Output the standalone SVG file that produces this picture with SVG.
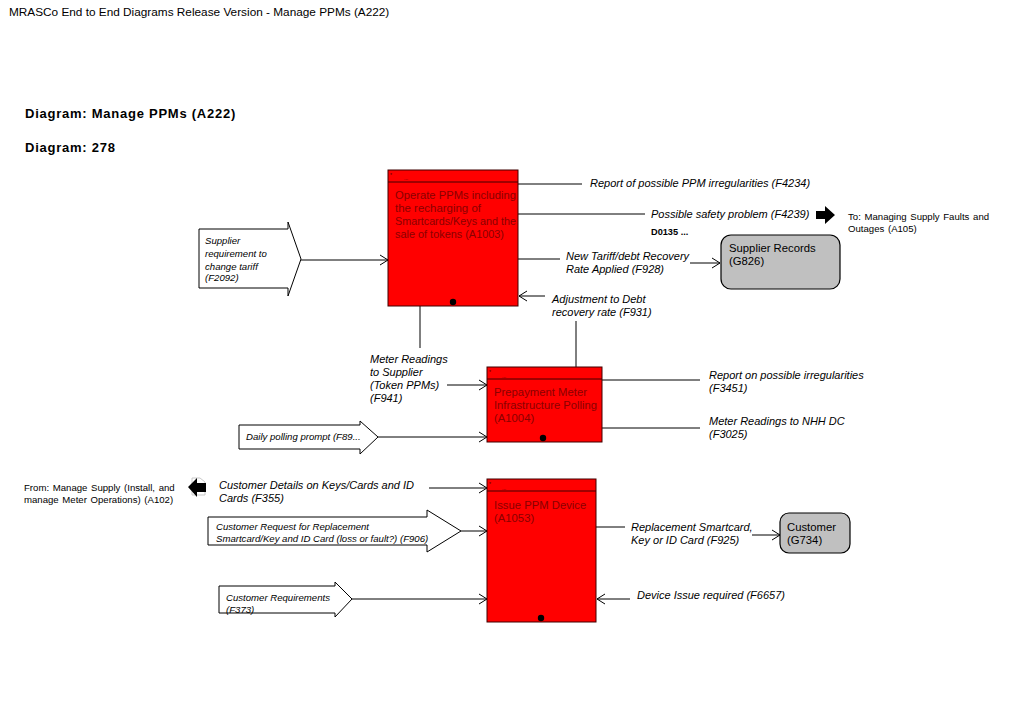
<svg xmlns="http://www.w3.org/2000/svg" width="1023" height="708" viewBox="0 0 1023 708">
<style>
text{font-family:"Liberation Sans",Arial,sans-serif;}
.ttl{font-size:11.8px;fill:#000}
.hd{font-size:13px;font-weight:bold;fill:#000;letter-spacing:0.75px}
.lbl{font-size:11px;font-style:italic;fill:#000}
.sm{font-size:9.6px;font-style:italic;fill:#000}
.ref{font-size:9.6px;fill:#000;word-spacing:1px}
.act{fill:#ff0000;stroke:#400000;stroke-width:1}
.atx{font-size:11.3px;fill:#8a0000}
.tiny{font-size:5px;fill:#400000}
.store{fill:#c0c0c0;stroke:#000;stroke-width:1.2}
.stx{font-size:11.3px;fill:#000}
.ln{stroke:#000;stroke-width:1;fill:none}
.blk{fill:#fff;stroke:#000;stroke-width:1}
</style>
<defs>
<marker id="ah" markerWidth="10" markerHeight="12" refX="9" refY="6" orient="auto" markerUnits="userSpaceOnUse">
<path d="M1,1 L9,6 L1,11" fill="none" stroke="#000" stroke-width="1"/>
</marker>
</defs>
<rect width="1023" height="708" fill="#fff"/>
<text class="ttl" x="9" y="16">MRASCo End to End Diagrams Release Version - Manage PPMs (A222)</text>
<text class="hd" x="25" y="118">Diagram: Manage PPMs (A222)</text>
<text class="hd" x="25" y="152">Diagram: 278</text>

<g id="connectors">
<line class="ln" x1="518" y1="184" x2="582" y2="184"/>
<line class="ln" x1="518" y1="214" x2="645" y2="214"/>
<line class="ln" x1="518" y1="259" x2="560" y2="259"/>
<line class="ln" x1="690" y1="263" x2="720" y2="263" marker-end="url(#ah)"/>
<polyline class="ln" points="576,367 576,321"/>
<line class="ln" x1="545" y1="296" x2="519" y2="296" marker-end="url(#ah)"/>
<line class="ln" x1="301" y1="260" x2="388" y2="260" marker-end="url(#ah)"/>
<line class="ln" x1="420" y1="306" x2="420" y2="348"/>
<line class="ln" x1="447" y1="385" x2="487" y2="385" marker-end="url(#ah)"/>
<line class="ln" x1="602" y1="380" x2="700" y2="380"/>
<line class="ln" x1="602" y1="428" x2="700" y2="428"/>
<line class="ln" x1="378" y1="437" x2="487" y2="437" marker-end="url(#ah)"/>
<line class="ln" x1="429" y1="488" x2="487" y2="488" marker-end="url(#ah)"/>
<line class="ln" x1="461" y1="531" x2="487" y2="531" marker-end="url(#ah)"/>
<line class="ln" x1="352" y1="599" x2="487" y2="599" marker-end="url(#ah)"/>
<line class="ln" x1="596" y1="527" x2="625" y2="527"/>
<line class="ln" x1="752" y1="535" x2="780" y2="535" marker-end="url(#ah)"/>
<line class="ln" x1="630" y1="599" x2="597" y2="599" marker-end="url(#ah)"/>
</g>

<g id="A1003">
<rect class="act" x="388" y="170" width="130" height="136"/>
<line x1="388" y1="182" x2="518" y2="182" stroke="#400000"/>
<text class="tiny" x="390" y="177">*</text><text class="tiny" x="404" y="180">...</text>
<text class="atx" x="395" y="199" textLength="121" lengthAdjust="spacingAndGlyphs">Operate PPMs including</text>
<text class="atx" x="395" y="212" textLength="86" lengthAdjust="spacingAndGlyphs">the recharging of</text>
<text class="atx" x="395" y="225" textLength="121" lengthAdjust="spacingAndGlyphs">Smartcards/Keys and the</text>
<text class="atx" x="395" y="238" textLength="109" lengthAdjust="spacingAndGlyphs">sale of tokens (A1003)</text>
<circle cx="453" cy="302" r="3.2" fill="#000"/>
</g>

<g id="A1004">
<rect class="act" x="487" y="367" width="115" height="75"/>
<line x1="487" y1="379" x2="602" y2="379" stroke="#400000"/>
<text class="tiny" x="489" y="374">*</text><text class="tiny" x="502" y="378">...</text>
<text class="atx" x="494" y="396">Prepayment Meter</text>
<text class="atx" x="494" y="409" textLength="103" lengthAdjust="spacingAndGlyphs">Infrastructure Polling</text>
<text class="atx" x="494" y="422">(A1004)</text>
<circle cx="543" cy="438" r="3.2" fill="#000"/>
</g>

<g id="A1053">
<rect class="act" x="487" y="479" width="109" height="143"/>
<line x1="487" y1="491" x2="596" y2="491" stroke="#400000"/>
<text class="tiny" x="489" y="486">*</text><text class="tiny" x="502" y="490">...</text>
<text class="atx" x="494" y="509">Issue PPM Device</text>
<text class="atx" x="494" y="522">(A1053)</text>
<circle cx="541" cy="618" r="3.2" fill="#000"/>
</g>

<g id="G826">
<rect class="store" x="721" y="235" width="119" height="54" rx="10"/>
<text class="stx" x="729" y="252">Supplier Records</text>
<text class="stx" x="729" y="265">(G826)</text>
</g>

<g id="G734">
<rect class="store" x="780" y="513" width="70" height="40" rx="9"/>
<text class="stx" x="787" y="531">Customer</text>
<text class="stx" x="787" y="544">(G734)</text>
</g>

<g id="F2092">
<polygon class="blk" points="199,229 288,229 288,222 301,259 288,296 288,288 199,288"/>
<text class="sm" x="205" y="244">Supplier</text>
<text class="sm" x="205" y="257">requirement to</text>
<text class="sm" x="205" y="270">change tariff</text>
<text class="sm" x="205" y="281">(F2092)</text>
</g>

<g id="F89">
<polygon class="blk" points="239,425 360,425 360,421 378,437 360,454 360,449 239,449"/>
<text class="sm" x="246" y="440">Daily polling prompt (F89...</text>
</g>

<g id="F906">
<polygon class="blk" points="208,517 427,517 427,510 461,531 427,552 427,545 208,545"/>
<text class="sm" x="216" y="530">Customer Request for Replacement</text>
<text class="sm" x="216" y="542">Smartcard/Key and ID Card (loss or fault?) (F906)</text>
</g>

<g id="F373">
<polygon class="blk" points="219,586 335,586 335,582 352,599 335,617 335,613 219,613"/>
<text class="sm" x="226" y="601">Customer Requirements</text>
<text class="sm" x="226" y="613">(F373)</text>
</g>

<g id="labels">
<text class="lbl" x="590" y="187">Report of possible PPM irregularities (F4234)</text>
<text class="lbl" x="651" y="218">Possible safety problem (F4239)</text>
<text x="651" y="235" font-size="9.2" font-weight="bold">D0135 ...</text>
<text class="lbl" x="566" y="260">New Tariff/debt Recovery</text>
<text class="lbl" x="566" y="273">Rate Applied (F928)</text>
<text class="lbl" x="552" y="303">Adjustment to Debt</text>
<text class="lbl" x="552" y="316">recovery rate (F931)</text>
<text class="lbl" x="370" y="363">Meter Readings</text>
<text class="lbl" x="370" y="376">to Supplier</text>
<text class="lbl" x="370" y="389">(Token PPMs)</text>
<text class="lbl" x="370" y="402">(F941)</text>
<text class="lbl" x="709" y="379">Report on possible irregularities</text>
<text class="lbl" x="709" y="392">(F3451)</text>
<text class="lbl" x="709" y="425">Meter Readings to NHH DC</text>
<text class="lbl" x="709" y="438">(F3025)</text>
<text class="lbl" x="219" y="489">Customer Details on Keys/Cards and ID</text>
<text class="lbl" x="219" y="502">Cards (F355)</text>
<text class="lbl" x="631" y="531">Replacement Smartcard,</text>
<text class="lbl" x="631" y="544">Key or ID Card (F925)</text>
<text class="lbl" x="637" y="599">Device Issue required (F6657)</text>
</g>

<g id="offpage-out">
<polygon points="816,211 825,211 825,206 835,215 825,224 825,219 816,219" fill="#000"/>
<text class="ref" x="848" y="220">To: Managing Supply Faults and</text>
<text class="ref" x="848" y="232">Outages (A105)</text>
</g>

<g id="offpage-in">
<polygon points="200,478 205,482 205,495 192,495 192,478" fill="#fff" stroke="#bbb" stroke-width="0.8"/>
<polygon points="188,487 197,478 197,483 206,483 206,492 197,492 197,497" fill="#000"/>
<text class="ref" x="24" y="491">From: Manage Supply (Install, and</text>
<text class="ref" x="24" y="503">manage Meter Operations) (A102)</text>
</g>
</svg>
